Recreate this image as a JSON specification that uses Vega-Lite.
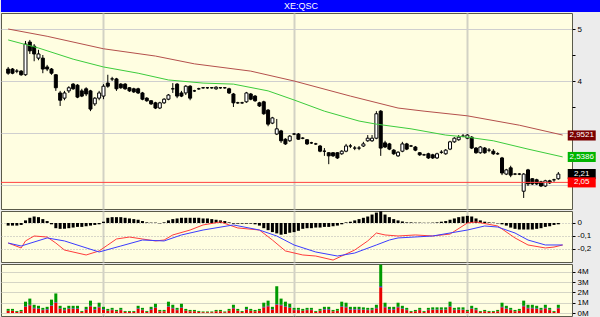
{
"$schema":"https://vega.github.io/schema/vega-lite/v6.json",
"padding":0,
"background":"#ececec",
"spacing":0,
"resolve":{"scale":{"color":"independent"}},
"config":{
 "font":"Liberation Sans",
 "view":{"fill":"#fffee1","stroke":"#5a5a4a","strokeWidth":1},
 "axis":{"labelFont":"Liberation Sans","labelFontSize":8,"labelColor":"#000000","tickColor":"#000000","domain":false,"title":null,"gridColor":"#cfcfcf","labelOverlap":false},
 "concat":{"spacing":0}
},
"datasets":{
 "title":[{"t":"XE:QSC"}],
 "levels":[{"k":"slow","v":2.9521,"t":"2,9521"},{"k":"fast","v":2.5386,"t":"2,5386"},{"k":"last","v":2.21,"t":"2,21"},{"k":"low","v":2.05,"t":"2,05"}],
 "ma":[
  {"k":"slow","d":0,"p":5.0},{"k":"slow","d":9,"p":4.86},{"k":"slow","d":22,"p":4.62},{"k":"slow","d":34,"p":4.48},{"k":"slow","d":43,"p":4.33},{"k":"slow","d":56,"p":4.19},{"k":"slow","d":66,"p":4.0},{"k":"slow","d":79,"p":3.71},{"k":"slow","d":90,"p":3.48},{"k":"slow","d":96,"p":3.42},{"k":"slow","d":106,"p":3.33},{"k":"slow","d":118,"p":3.15},{"k":"slow","d":128,"p":2.96},
  {"k":"fast","d":0,"p":4.79},{"k":"fast","d":7,"p":4.635},{"k":"fast","d":15,"p":4.42},{"k":"fast","d":22,"p":4.27},{"k":"fast","d":30,"p":4.15},{"k":"fast","d":37,"p":4.02},{"k":"fast","d":45,"p":3.96},{"k":"fast","d":52,"p":3.94},{"k":"fast","d":60,"p":3.81},{"k":"fast","d":66,"p":3.635},{"k":"fast","d":73,"p":3.42},{"k":"fast","d":81,"p":3.23},{"k":"fast","d":85,"p":3.17},{"k":"fast","d":93,"p":3.08},{"k":"fast","d":101,"p":2.96},{"k":"fast","d":106,"p":2.92},{"k":"fast","d":112,"p":2.85},{"k":"fast","d":120,"p":2.69},{"k":"fast","d":128,"p":2.54}
 ],
 "macd":[
  {"k":"m","d":0,"v":-0.154},{"k":"m","d":3,"v":-0.192},{"k":"m","d":4,"v":-0.138},{"k":"m","d":6,"v":-0.1},{"k":"m","d":9,"v":-0.108},{"k":"m","d":11,"v":-0.154},{"k":"m","d":13,"v":-0.208},{"k":"m","d":18,"v":-0.246},{"k":"m","d":21,"v":-0.215},{"k":"m","d":23,"v":-0.169},{"k":"m","d":25,"v":-0.123},{"k":"m","d":28,"v":-0.108},{"k":"m","d":31,"v":-0.123},{"k":"m","d":34,"v":-0.138},{"k":"m","d":36,"v":-0.131},{"k":"m","d":38,"v":-0.092},{"k":"m","d":42,"v":-0.054},{"k":"m","d":45,"v":-0.015},{"k":"m","d":49,"v":0.008},{"k":"m","d":53,"v":-0.038},{"k":"m","d":58,"v":-0.054},{"k":"m","d":61,"v":-0.131},{"k":"m","d":64,"v":-0.215},{"k":"m","d":68,"v":-0.246},{"k":"m","d":71,"v":-0.254},{"k":"m","d":75,"v":-0.285},{"k":"m","d":77,"v":-0.254},{"k":"m","d":80,"v":-0.208},{"k":"m","d":83,"v":-0.138},{"k":"m","d":85,"v":-0.077},{"k":"m","d":87,"v":-0.092},{"k":"m","d":90,"v":-0.1},{"k":"m","d":94,"v":-0.092},{"k":"m","d":98,"v":-0.1},{"k":"m","d":102,"v":-0.085},{"k":"m","d":106,"v":0},{"k":"m","d":108,"v":0.008},{"k":"m","d":113,"v":-0.023},{"k":"m","d":117,"v":-0.115},{"k":"m","d":120,"v":-0.169},{"k":"m","d":124,"v":-0.192},{"k":"m","d":126,"v":-0.185},{"k":"m","d":128,"v":-0.169},
  {"k":"s","d":0,"v":-0.154},{"k":"s","d":3,"v":-0.177},{"k":"s","d":9,"v":-0.115},{"k":"s","d":13,"v":-0.138},{"k":"s","d":21,"v":-0.223},{"k":"s","d":26,"v":-0.177},{"k":"s","d":31,"v":-0.131},{"k":"s","d":36,"v":-0.138},{"k":"s","d":40,"v":-0.092},{"k":"s","d":45,"v":-0.054},{"k":"s","d":52,"v":-0.015},{"k":"s","d":58,"v":-0.054},{"k":"s","d":62,"v":-0.1},{"k":"s","d":66,"v":-0.169},{"k":"s","d":71,"v":-0.223},{"k":"s","d":76,"v":-0.254},{"k":"s","d":80,"v":-0.231},{"k":"s","d":85,"v":-0.169},{"k":"s","d":88,"v":-0.131},{"k":"s","d":90,"v":-0.115},{"k":"s","d":98,"v":-0.1},{"k":"s","d":106,"v":-0.054},{"k":"s","d":110,"v":-0.023},{"k":"s","d":113,"v":-0.031},{"k":"s","d":117,"v":-0.077},{"k":"s","d":120,"v":-0.131},{"k":"s","d":124,"v":-0.169},{"k":"s","d":128,"v":-0.169}
 ],
 "candles":[
  {"d":0,"o":4.23,"h":4.27,"l":4.12,"c":4.15,"m":-0.02,"va":0.22,"vb":0,"vc":0.18},
  {"d":1,"o":4.23,"h":4.25,"l":4.13,"c":4.15,"m":-0.02,"va":0.22,"vb":0,"vc":0.18},
  {"d":2,"o":4.19,"h":4.23,"l":4.15,"c":4.19,"m":-0.02,"va":0.11,"vb":0,"vc":0.09},
  {"d":3,"o":4.19,"h":4.21,"l":4.10,"c":4.12,"m":-0.015,"va":0.17,"vb":0,"vc":0.13},
  {"d":4,"o":4.12,"h":4.77,"l":4.10,"c":4.71,"m":0.02,"va":0.6,"vb":0.05,"vc":0.45},
  {"d":5,"o":4.75,"h":4.79,"l":4.52,"c":4.58,"m":0.04,"va":0.75,"vb":0.05,"vc":0.6},
  {"d":6,"o":4.67,"h":4.71,"l":4.38,"c":4.52,"m":0.05,"va":0.45,"vb":0.05,"vc":0.3},
  {"d":7,"o":4.44,"h":4.60,"l":4.40,"c":4.52,"m":0.045,"va":0.4,"vb":0.05,"vc":0.25},
  {"d":8,"o":4.44,"h":4.50,"l":4.15,"c":4.23,"m":0.03,"va":0.28,"vb":0.04,"vc":0.18},
  {"d":9,"o":4.27,"h":4.31,"l":4.19,"c":4.23,"m":0.015,"va":0.33,"vb":0.05,"vc":0.22},
  {"d":10,"o":4.23,"h":4.25,"l":4.12,"c":4.15,"m":-0.01,"va":0.7,"vb":0.05,"vc":0.55},
  {"d":11,"o":4.12,"h":4.13,"l":3.81,"c":3.87,"m":-0.04,"va":1.0,"vb":0.05,"vc":0.85},
  {"d":12,"o":3.77,"h":3.81,"l":3.52,"c":3.63,"m":-0.045,"va":0.4,"vb":0.05,"vc":0.25},
  {"d":13,"o":3.67,"h":3.81,"l":3.63,"c":3.77,"m":-0.045,"va":0.28,"vb":0.04,"vc":0.18},
  {"d":14,"o":3.81,"h":3.90,"l":3.77,"c":3.87,"m":-0.04,"va":0.4,"vb":0.05,"vc":0.25},
  {"d":15,"o":3.94,"h":3.96,"l":3.83,"c":3.85,"m":-0.035,"va":0.4,"vb":0.05,"vc":0.25},
  {"d":16,"o":3.92,"h":3.94,"l":3.67,"c":3.69,"m":-0.03,"va":0.4,"vb":0.05,"vc":0.25},
  {"d":17,"o":3.81,"h":3.85,"l":3.69,"c":3.71,"m":-0.03,"va":0.11,"vb":0,"vc":0.09},
  {"d":18,"o":3.85,"h":3.88,"l":3.71,"c":3.75,"m":-0.025,"va":0.33,"vb":0.05,"vc":0.22},
  {"d":19,"o":3.81,"h":3.83,"l":3.42,"c":3.46,"m":-0.02,"va":0.65,"vb":0.05,"vc":0.5},
  {"d":20,"o":3.56,"h":3.69,"l":3.52,"c":3.67,"m":-0.015,"va":0.33,"vb":0.05,"vc":0.22},
  {"d":21,"o":3.67,"h":3.81,"l":3.63,"c":3.77,"m":-0.01,"va":0.55,"vb":0.05,"vc":0.4},
  {"d":22,"o":3.71,"h":3.94,"l":3.65,"c":3.90,"m":0.01,"va":0.33,"vb":0.05,"vc":0.22},
  {"d":23,"o":3.96,"h":4.12,"l":3.87,"c":3.90,"m":0.04,"va":0.22,"vb":0,"vc":0.18},
  {"d":24,"o":4.04,"h":4.08,"l":4.00,"c":4.04,"m":0.045,"va":0.28,"vb":0.04,"vc":0.18},
  {"d":25,"o":4.04,"h":4.06,"l":3.81,"c":3.85,"m":0.045,"va":0.17,"vb":0,"vc":0.13},
  {"d":26,"o":3.94,"h":3.96,"l":3.85,"c":3.87,"m":0.045,"va":0.28,"vb":0.04,"vc":0.18},
  {"d":27,"o":3.94,"h":3.96,"l":3.83,"c":3.85,"m":0.04,"va":0.11,"vb":0,"vc":0.09},
  {"d":28,"o":3.87,"h":3.88,"l":3.79,"c":3.81,"m":0.035,"va":0.11,"vb":0,"vc":0.09},
  {"d":29,"o":3.85,"h":3.87,"l":3.77,"c":3.79,"m":0.03,"va":0.11,"vb":0,"vc":0.09},
  {"d":30,"o":3.85,"h":3.87,"l":3.75,"c":3.77,"m":0.025,"va":0.4,"vb":0.05,"vc":0.25},
  {"d":31,"o":3.77,"h":3.79,"l":3.63,"c":3.65,"m":0.015,"va":0.28,"vb":0.04,"vc":0.18},
  {"d":32,"o":3.67,"h":3.69,"l":3.60,"c":3.62,"m":0.005,"va":0.11,"vb":0,"vc":0.09},
  {"d":33,"o":3.62,"h":3.63,"l":3.54,"c":3.56,"m":0.003,"va":0.33,"vb":0.05,"vc":0.22},
  {"d":34,"o":3.58,"h":3.60,"l":3.46,"c":3.48,"m":0.003,"va":0.5,"vb":0.05,"vc":0.35},
  {"d":35,"o":3.48,"h":3.60,"l":3.46,"c":3.58,"m":-0.003,"va":0.17,"vb":0,"vc":0.13},
  {"d":36,"o":3.58,"h":3.67,"l":3.56,"c":3.65,"m":0.005,"va":0.17,"vb":0,"vc":0.13},
  {"d":37,"o":3.65,"h":3.75,"l":3.63,"c":3.73,"m":0.02,"va":0.6,"vb":0.05,"vc":0.45},
  {"d":38,"o":3.85,"h":3.96,"l":3.77,"c":3.85,"m":0.03,"va":0.45,"vb":0.05,"vc":0.3},
  {"d":39,"o":3.94,"h":3.96,"l":3.67,"c":3.71,"m":0.035,"va":0.28,"vb":0.04,"vc":0.18},
  {"d":40,"o":3.77,"h":3.81,"l":3.69,"c":3.71,"m":0.04,"va":0.5,"vb":0.05,"vc":0.35},
  {"d":41,"o":3.77,"h":3.92,"l":3.73,"c":3.90,"m":0.04,"va":0.22,"vb":0,"vc":0.18},
  {"d":42,"o":3.90,"h":3.92,"l":3.63,"c":3.67,"m":0.04,"va":0.17,"vb":0,"vc":0.13},
  {"d":43,"o":3.81,"h":3.83,"l":3.79,"c":3.81,"m":0.04,"va":0.17,"vb":0,"vc":0.13},
  {"d":44,"o":3.85,"h":3.87,"l":3.83,"c":3.85,"m":0.04,"va":0.11,"vb":0,"vc":0.09},
  {"d":45,"o":3.87,"h":3.88,"l":3.85,"c":3.87,"m":0.035,"va":0.08,"vb":0,"vc":0.07},
  {"d":46,"o":3.87,"h":3.88,"l":3.85,"c":3.87,"m":0.035,"va":0.08,"vb":0,"vc":0.07},
  {"d":47,"o":3.87,"h":3.88,"l":3.85,"c":3.87,"m":0.03,"va":0.08,"vb":0,"vc":0.07},
  {"d":48,"o":3.85,"h":3.90,"l":3.83,"c":3.88,"m":0.025,"va":0.17,"vb":0,"vc":0.13},
  {"d":49,"o":3.87,"h":3.88,"l":3.85,"c":3.87,"m":0.02,"va":0.17,"vb":0,"vc":0.13},
  {"d":50,"o":3.87,"h":3.88,"l":3.85,"c":3.87,"m":0.015,"va":0.08,"vb":0,"vc":0.07},
  {"d":51,"o":3.85,"h":3.87,"l":3.75,"c":3.77,"m":0.005,"va":0.22,"vb":0,"vc":0.18},
  {"d":52,"o":3.75,"h":3.77,"l":3.50,"c":3.58,"m":-0.005,"va":0.45,"vb":0.05,"vc":0.3},
  {"d":53,"o":3.58,"h":3.60,"l":3.56,"c":3.58,"m":-0.005,"va":0.22,"vb":0,"vc":0.18},
  {"d":54,"o":3.58,"h":3.60,"l":3.56,"c":3.58,"m":-0.005,"va":0.11,"vb":0,"vc":0.09},
  {"d":55,"o":3.60,"h":3.79,"l":3.58,"c":3.77,"m":-0.005,"va":0.33,"vb":0.05,"vc":0.22},
  {"d":56,"o":3.75,"h":3.77,"l":3.63,"c":3.65,"m":-0.005,"va":0.22,"vb":0,"vc":0.18},
  {"d":57,"o":3.71,"h":3.73,"l":3.60,"c":3.62,"m":-0.01,"va":0.17,"vb":0,"vc":0.13},
  {"d":58,"o":3.58,"h":3.60,"l":3.50,"c":3.52,"m":-0.02,"va":0.22,"vb":0,"vc":0.18},
  {"d":59,"o":3.60,"h":3.62,"l":3.35,"c":3.37,"m":-0.04,"va":0.55,"vb":0.05,"vc":0.4},
  {"d":60,"o":3.44,"h":3.46,"l":3.13,"c":3.17,"m":-0.055,"va":0.65,"vb":0.05,"vc":0.5},
  {"d":61,"o":3.19,"h":3.31,"l":3.17,"c":3.29,"m":-0.07,"va":0.33,"vb":0.05,"vc":0.22},
  {"d":62,"o":2.98,"h":3.27,"l":2.96,"c":3.08,"m":-0.08,"va":0.8,"vb":0.05,"vc":1.75},
  {"d":63,"o":3.04,"h":3.06,"l":2.81,"c":2.85,"m":-0.09,"va":0.75,"vb":0.05,"vc":0.6},
  {"d":64,"o":2.88,"h":2.90,"l":2.77,"c":2.79,"m":-0.085,"va":0.6,"vb":0.05,"vc":0.45},
  {"d":65,"o":2.85,"h":2.96,"l":2.83,"c":2.94,"m":-0.075,"va":0.5,"vb":0.05,"vc":0.35},
  {"d":66,"o":2.98,"h":3.00,"l":2.96,"c":2.98,"m":-0.07,"va":0.28,"vb":0.04,"vc":0.18},
  {"d":67,"o":2.98,"h":3.00,"l":2.87,"c":2.88,"m":-0.06,"va":0.28,"vb":0.04,"vc":0.18},
  {"d":68,"o":2.90,"h":2.92,"l":2.88,"c":2.90,"m":-0.045,"va":0.22,"vb":0,"vc":0.18},
  {"d":69,"o":2.87,"h":2.88,"l":2.77,"c":2.79,"m":-0.04,"va":0.28,"vb":0.04,"vc":0.18},
  {"d":70,"o":2.81,"h":2.83,"l":2.79,"c":2.81,"m":-0.04,"va":0.28,"vb":0.04,"vc":0.18},
  {"d":71,"o":2.79,"h":2.81,"l":2.77,"c":2.79,"m":-0.035,"va":0.11,"vb":0,"vc":0.09},
  {"d":72,"o":2.75,"h":2.77,"l":2.63,"c":2.65,"m":-0.035,"va":0.22,"vb":0,"vc":0.18},
  {"d":73,"o":2.65,"h":2.71,"l":2.56,"c":2.65,"m":-0.03,"va":0.33,"vb":0.05,"vc":0.22},
  {"d":74,"o":2.62,"h":2.63,"l":2.40,"c":2.56,"m":-0.03,"va":0.33,"vb":0.05,"vc":0.22},
  {"d":75,"o":2.62,"h":2.63,"l":2.54,"c":2.56,"m":-0.025,"va":0.17,"vb":0,"vc":0.13},
  {"d":76,"o":2.62,"h":2.63,"l":2.50,"c":2.52,"m":-0.02,"va":0.22,"vb":0,"vc":0.18},
  {"d":77,"o":2.60,"h":2.67,"l":2.58,"c":2.65,"m":-0.01,"va":0.6,"vb":0.05,"vc":0.45},
  {"d":78,"o":2.65,"h":2.79,"l":2.63,"c":2.75,"m":0.005,"va":0.55,"vb":0.05,"vc":0.4},
  {"d":79,"o":2.75,"h":2.79,"l":2.71,"c":2.75,"m":0.01,"va":0.33,"vb":0.05,"vc":0.22},
  {"d":80,"o":2.71,"h":2.75,"l":2.67,"c":2.71,"m":0.02,"va":0.33,"vb":0.05,"vc":0.22},
  {"d":81,"o":2.71,"h":2.75,"l":2.67,"c":2.71,"m":0.03,"va":0.33,"vb":0.05,"vc":0.22},
  {"d":82,"o":2.75,"h":2.83,"l":2.73,"c":2.79,"m":0.04,"va":0.3,"vb":0.04,"vc":0.21},
  {"d":83,"o":2.85,"h":2.96,"l":2.83,"c":2.90,"m":0.05,"va":0.28,"vb":0.04,"vc":0.18},
  {"d":84,"o":2.85,"h":2.96,"l":2.83,"c":2.90,"m":0.065,"va":0.28,"vb":0.04,"vc":0.18},
  {"d":85,"o":2.90,"h":3.42,"l":2.88,"c":3.37,"m":0.08,"va":0.45,"vb":0.05,"vc":0.3},
  {"d":86,"o":3.42,"h":3.44,"l":2.56,"c":2.71,"m":0.09,"va":2.5,"vb":0.1,"vc":2.1},
  {"d":87,"o":2.81,"h":2.85,"l":2.71,"c":2.73,"m":0.065,"va":0.55,"vb":0.05,"vc":0.4},
  {"d":88,"o":2.79,"h":2.81,"l":2.67,"c":2.69,"m":0.045,"va":0.33,"vb":0.05,"vc":0.22},
  {"d":89,"o":2.67,"h":2.69,"l":2.58,"c":2.60,"m":0.03,"va":0.33,"vb":0.05,"vc":0.22},
  {"d":90,"o":2.56,"h":2.65,"l":2.54,"c":2.63,"m":0.02,"va":0.55,"vb":0.05,"vc":0.4},
  {"d":91,"o":2.65,"h":2.83,"l":2.63,"c":2.79,"m":0.012,"va":0.4,"vb":0.05,"vc":0.25},
  {"d":92,"o":2.79,"h":2.81,"l":2.67,"c":2.69,"m":0.005,"va":0.28,"vb":0.04,"vc":0.18},
  {"d":93,"o":2.75,"h":2.77,"l":2.73,"c":2.75,"m":0.005,"va":0.11,"vb":0,"vc":0.09},
  {"d":94,"o":2.73,"h":2.75,"l":2.65,"c":2.67,"m":0.003,"va":0.17,"vb":0,"vc":0.13},
  {"d":95,"o":2.62,"h":2.63,"l":2.56,"c":2.58,"m":0.003,"va":0.28,"vb":0.04,"vc":0.18},
  {"d":96,"o":2.58,"h":2.60,"l":2.56,"c":2.58,"m":0.002,"va":0.11,"vb":0,"vc":0.09},
  {"d":97,"o":2.60,"h":2.62,"l":2.50,"c":2.52,"m":0.002,"va":0.28,"vb":0.04,"vc":0.18},
  {"d":98,"o":2.58,"h":2.60,"l":2.50,"c":2.52,"m":0.003,"va":0.3,"vb":0.04,"vc":0.21},
  {"d":99,"o":2.52,"h":2.62,"l":2.50,"c":2.60,"m":0.005,"va":0.3,"vb":0.04,"vc":0.21},
  {"d":100,"o":2.63,"h":2.67,"l":2.60,"c":2.63,"m":0.01,"va":0.3,"vb":0.04,"vc":0.21},
  {"d":101,"o":2.60,"h":2.69,"l":2.58,"c":2.67,"m":0.015,"va":0.3,"vb":0.04,"vc":0.21},
  {"d":102,"o":2.69,"h":2.85,"l":2.67,"c":2.83,"m":0.025,"va":0.6,"vb":0.05,"vc":0.45},
  {"d":103,"o":2.83,"h":2.92,"l":2.81,"c":2.90,"m":0.035,"va":0.28,"vb":0.04,"vc":0.18},
  {"d":104,"o":2.87,"h":2.96,"l":2.85,"c":2.92,"m":0.045,"va":0.3,"vb":0.04,"vc":0.21},
  {"d":105,"o":2.94,"h":2.98,"l":2.92,"c":2.94,"m":0.05,"va":0.3,"vb":0.04,"vc":0.21},
  {"d":106,"o":2.90,"h":2.98,"l":2.88,"c":2.96,"m":0.055,"va":0.17,"vb":0,"vc":0.13},
  {"d":107,"o":2.92,"h":2.94,"l":2.69,"c":2.71,"m":0.05,"va":0.4,"vb":0.05,"vc":0.25},
  {"d":108,"o":2.71,"h":2.73,"l":2.60,"c":2.62,"m":0.035,"va":0.28,"vb":0.04,"vc":0.18},
  {"d":109,"o":2.62,"h":2.75,"l":2.60,"c":2.73,"m":0.02,"va":0.11,"vb":0,"vc":0.09},
  {"d":110,"o":2.71,"h":2.73,"l":2.60,"c":2.62,"m":0.01,"va":0.17,"vb":0,"vc":0.13},
  {"d":111,"o":2.67,"h":2.71,"l":2.63,"c":2.67,"m":0.005,"va":0.11,"vb":0,"vc":0.09},
  {"d":112,"o":2.65,"h":2.69,"l":2.58,"c":2.60,"m":0.003,"va":0.11,"vb":0,"vc":0.09},
  {"d":113,"o":2.60,"h":2.63,"l":2.58,"c":2.60,"m":-0.003,"va":0.17,"vb":0,"vc":0.13},
  {"d":114,"o":2.52,"h":2.54,"l":2.19,"c":2.23,"m":-0.01,"va":0.55,"vb":0.05,"vc":0.4},
  {"d":115,"o":2.21,"h":2.31,"l":2.19,"c":2.29,"m":-0.02,"va":0.4,"vb":0.05,"vc":0.25},
  {"d":116,"o":2.33,"h":2.37,"l":2.15,"c":2.19,"m":-0.035,"va":0.28,"vb":0.04,"vc":0.18},
  {"d":117,"o":2.21,"h":2.23,"l":2.19,"c":2.21,"m":-0.045,"va":0.17,"vb":0,"vc":0.13},
  {"d":118,"o":2.21,"h":2.23,"l":2.19,"c":2.21,"m":-0.05,"va":0.22,"vb":0,"vc":0.18},
  {"d":119,"o":1.88,"h":2.23,"l":1.75,"c":2.21,"m":-0.05,"va":0.65,"vb":0.05,"vc":0.5},
  {"d":120,"o":2.29,"h":2.31,"l":1.98,"c":2.02,"m":-0.05,"va":0.45,"vb":0.05,"vc":0.3},
  {"d":121,"o":2.12,"h":2.13,"l":2.00,"c":2.02,"m":-0.05,"va":0.45,"vb":0.05,"vc":0.3},
  {"d":122,"o":2.10,"h":2.12,"l":2.00,"c":2.02,"m":-0.045,"va":0.4,"vb":0.05,"vc":0.25},
  {"d":123,"o":2.06,"h":2.08,"l":1.96,"c":1.98,"m":-0.04,"va":0.28,"vb":0.04,"vc":0.18},
  {"d":124,"o":1.98,"h":2.10,"l":1.96,"c":2.08,"m":-0.03,"va":0.45,"vb":0.05,"vc":0.3},
  {"d":125,"o":2.08,"h":2.10,"l":2.02,"c":2.04,"m":-0.025,"va":0.28,"vb":0.04,"vc":0.18},
  {"d":126,"o":2.10,"h":2.12,"l":2.06,"c":2.10,"m":-0.015,"va":0.11,"vb":0,"vc":0.09},
  {"d":127,"o":2.12,"h":2.25,"l":2.10,"c":2.21,"m":-0.01,"va":0.45,"vb":0.05,"vc":0.3}
 ]
},
"vconcat":[
 {"width":600,"height":12,"view":{"fill":"#0000ff","stroke":null},"data":{"name":"title"},
  "mark":{"type":"text","color":"#ffffff","fontSize":9,"baseline":"middle","align":"center"},
  "encoding":{"text":{"field":"t"}}},
 {"width":571,"height":196,"layer":[
   {"data":{"name":"candles"},"mark":{"type":"rule","color":"#000000","strokeWidth":1},
    "encoding":{
     "x":{"field":"d","type":"quantitative","scale":{"domain":[-0.5,129],"nice":false,"zero":false},
          "axis":{"values":[22,66,106],"tickCount":20,"labels":false,"ticks":false,"grid":true,"gridColor":"#d2d2c4","gridWidth":2}},
     "y":{"field":"l","type":"quantitative","scale":{"domain":[1.538,5.308],"nice":false,"zero":false},
          "axis":{"orient":"right","values":[2,2.5,3,3.5,4,4.5,5],"tickCount":20,"labelExpr":"datum.value==4?'4':datum.value==5?'5':''",
                  "gridOpacity":{"condition":{"test":"datum.value % 1 != 0","value":0},"value":1},
                  "tickSize":3,"labelPadding":2,"minExtent":29,"maxExtent":29}},
     "y2":{"field":"h"}}},
   {"data":{"name":"candles"},"mark":{"type":"bar","size":3,"stroke":"#000000","strokeWidth":1},
    "encoding":{
     "x":{"field":"d","type":"quantitative"},
     "y":{"field":"o","type":"quantitative"},
     "y2":{"field":"c"},
     "fill":{"condition":{"test":"datum.c < datum.o","value":"#000000"},"value":"#ffffff"}}},
   {"data":{"name":"ma"},"transform":[{"filter":"datum.k=='slow'"}],"mark":{"type":"line","color":"#b4504c","strokeWidth":1},
    "encoding":{"x":{"field":"d","type":"quantitative"},"y":{"field":"p","type":"quantitative"}}},
   {"data":{"name":"ma"},"transform":[{"filter":"datum.k=='fast'"}],"mark":{"type":"line","color":"#3ccc3c","strokeWidth":1},
    "encoding":{"x":{"field":"d","type":"quantitative"},"y":{"field":"p","type":"quantitative"}}},
   {"data":{"name":"levels"},"transform":[{"filter":"datum.k=='low'"}],"mark":{"type":"rule","color":"#ff4040","strokeWidth":1},
    "encoding":{"y":{"field":"v","type":"quantitative"}}},
   {"data":{"name":"levels"},"mark":{"type":"point","shape":"M-1,-0.36L1,-0.36L1,0.36L-1,0.36Z","size":784,"filled":true,"opacity":1,"strokeWidth":0},
    "encoding":{"x":{"datum":132.4,"type":"quantitative"},"y":{"field":"v","type":"quantitative"},
     "color":{"field":"k","type":"nominal","scale":{"domain":["slow","fast","last","low"],"range":["#7a0000","#00b400","#000000","#ff0000"]},"legend":null}}},
   {"data":{"name":"levels"},"mark":{"type":"text","color":"#ffffff","fontSize":8,"align":"center","baseline":"middle"},
    "encoding":{"x":{"datum":132.4,"type":"quantitative"},"y":{"field":"v","type":"quantitative"},"text":{"field":"t"}}}
 ]},
 {"width":571,"height":51,"layer":[
   {"data":{"name":"candles"},"mark":{"type":"bar","size":3,"color":"#000000"},
    "encoding":{
     "x":{"field":"d","type":"quantitative","scale":{"domain":[-0.5,129],"nice":false,"zero":false},
          "axis":{"values":[22,66,106],"tickCount":20,"labels":false,"ticks":false,"grid":true,"gridColor":"#d2d2c4","gridWidth":2}},
     "y":{"field":"m","type":"quantitative","scale":{"domain":[-0.3,0.0923],"nice":false,"zero":false},
          "axis":{"orient":"right","values":[-0.2,-0.1,0],"tickCount":20,"labelExpr":"datum.value==0?'0':datum.value<-0.15?'-0,2':'-0,1'",
                  "labelOverlap":false,
                  "gridDash":[1,2],"gridColor":"#b0b0b0","tickSize":3,"labelPadding":2,"minExtent":29,"maxExtent":29}},
     "y2":{"datum":0}}},
   {"data":{"name":"macd"},"mark":{"type":"line","strokeWidth":1},
    "encoding":{"x":{"field":"d","type":"quantitative"},"y":{"field":"v","type":"quantitative"},
     "color":{"field":"k","type":"nominal","scale":{"domain":["m","s"],"range":["#ff3c3c","#3c3cff"]},"legend":null}}}
 ]},
 {"width":571,"height":52,"data":{"name":"candles"},
  "transform":[{"fold":["va","vb","vc"],"as":["key","vol"]}],
  "mark":{"type":"bar","size":3},
  "encoding":{
   "x":{"field":"d","type":"quantitative","scale":{"domain":[-0.5,129],"nice":false,"zero":false},
        "axis":{"values":[22,66,106],"tickCount":20,"labelExpr":"datum.value==22?'Sep 07':datum.value==66?'Nov 07':'Jan 08'","grid":true,"gridColor":"#d2d2c4","gridWidth":2,"tickSize":2,"labelPadding":0,"labelFontSize":8}},
   "y":{"field":"vol","type":"quantitative","stack":"zero","scale":{"domain":[-0.29,4.76],"nice":false,"zero":false},
        "axis":{"orient":"right","values":[0,1,2,3,4],"tickCount":20,"labelExpr":"datum.value+'M'","gridColor":"#d5d5c5","tickSize":3,"labelPadding":2,"minExtent":29,"maxExtent":29}},
   "color":{"field":"key","type":"nominal","scale":{"domain":["va","vb","vc"],"range":["#e80000","#0000e0","#009a00"]},"legend":null},
   "order":{"field":"key","sort":"ascending"}}}
]
}
